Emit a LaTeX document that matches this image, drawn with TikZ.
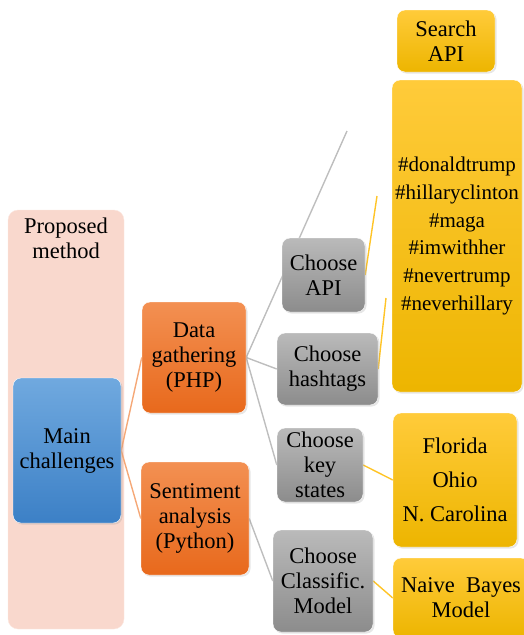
\documentclass[tikz,border=0pt]{standalone}
\usepackage{fontspec}
\setmainfont{Liberation Serif}
\usetikzlibrary{shadows,backgrounds}
\pgfdeclarelayer{hinten}
\pgfsetlayers{hinten,background,main}

\definecolor{rosa}{HTML}{F9D8CD}
\definecolor{blauoben}{HTML}{70A9DF}
\definecolor{blauunten}{HTML}{3C80C6}
\definecolor{orangeoben}{HTML}{F39052}
\definecolor{orangeunten}{HTML}{E8691C}
\definecolor{grauoben}{HTML}{BABABA}
\definecolor{grauunten}{HTML}{8C8C8C}
\definecolor{gelboben}{HTML}{FFCB3A}
\definecolor{gelbunten}{HTML}{EDB500}
\definecolor{linieorange}{HTML}{F5A877}
\definecolor{liniegrau}{HTML}{BEBEBE}
\definecolor{liniegelb}{HTML}{FFC427}

\tikzset{
    kasten/.style={rounded corners=8pt, draw=white, thin, align=center, inner sep=1pt,
        text=black, font=\fontsize{22.5}{25}\selectfont,
        drop shadow={opacity=0.2, shadow xshift=1.5pt, shadow yshift=-1.5pt}},
    blaukasten/.style={kasten, top color=blauoben, bottom color=blauunten},
    orangekasten/.style={kasten, top color=orangeoben, bottom color=orangeunten},
    graukasten/.style={kasten, top color=grauoben, bottom color=grauunten},
    gelbkasten/.style={kasten, top color=gelboben, bottom color=gelbunten},
    verbinder/.style={line width=1.4pt},
}

\begin{document}
\begin{tikzpicture}[x=1pt,y=-1pt]
    \useasboundingbox (0,0) rectangle (523,635);

    % Rahmen links
    \begin{pgfonlayer}{hinten}
        \node[rounded corners=10pt, fill=rosa, draw=rosa!60!white, minimum width=116pt, minimum height=419pt] (methode) at (66,419.5) {};
    \end{pgfonlayer}
    \node[align=center, text=black, font=\fontsize{22.5}{25}\selectfont] (methodetitel) at (66,238) {Proposed\\method};

    % Ebene 1 und 2
    \node[blaukasten, minimum width=108pt, minimum height=145pt] (haupt) at (67,450.5) {Main\\challenges};
    \node[orangekasten, minimum width=104pt, minimum height=111pt] (daten) at (194,357.5) {Data\\gathering\\(PHP)};
    \node[orangekasten, minimum width=108pt, minimum height=113pt] (stimmung) at (195,518.5) {Sentiment\\analysis\\(Python)};

    % Ebene 3
    \node[graukasten, minimum width=83pt, minimum height=74pt] (api) at (323.5,275) {Choose\\API};
    \node[graukasten, minimum width=101pt, minimum height=72pt] (hashtags) at (327.5,369) {Choose\\hashtags};
    \node[graukasten, minimum width=86pt, minimum height=74pt] (staaten) at (320,465) {Choose\\key\\states};
    \node[graukasten, minimum width=100pt, minimum height=102pt] (modell) at (323,581) {Choose\\Classific.\\Model};

    % Ebene 4
    \node[gelbkasten, minimum width=98pt, minimum height=62pt] (suche) at (446,41) {Search\\API};
    \node[gelbkasten, minimum width=130pt, minimum height=312pt, font=\fontsize{21}{27.8}\selectfont] (tags) at (457,236)
        {\#donaldtrump\\\#hillaryclinton\\\#maga\\\#imwithher\\\#nevertrump\\\#neverhillary};
    \node[gelbkasten, minimum width=124pt, minimum height=134pt, font=\fontsize{22.5}{34}\selectfont] (orte) at (455,480) {Florida\\Ohio\\N. Carolina};
    \node[gelbkasten, minimum width=136pt, minimum height=80pt] (bayes) at (461,598) {Naive\ \ Bayes\\Model};

    % Verbindungen
    \coordinate (apiende) at (347,131);
    \coordinate (suchende) at (377,196);
    \coordinate (tagende) at (386,298);
    \begin{pgfonlayer}{background}
        \draw[verbinder, linieorange] (haupt.east) -- (daten.west);
        \draw[verbinder, linieorange] (haupt.east) -- (stimmung.west);
        \draw[verbinder, liniegrau] (daten.east) -- (apiende);
        \draw[verbinder, liniegrau] (daten.east) -- (hashtags.west);
        \draw[verbinder, liniegrau] (daten.east) -- (staaten.west);
        \draw[verbinder, liniegrau] (stimmung.east) -- (modell.west);
        \draw[verbinder, liniegelb] (api.east) -- (suchende);
        \draw[verbinder, liniegelb] (hashtags.east) -- (tagende);
        \draw[verbinder, liniegelb] (staaten.east) -- (orte.west);
        \draw[verbinder, liniegelb] (modell.east) -- (bayes.west);
    \end{pgfonlayer}
\end{tikzpicture}
\end{document}
